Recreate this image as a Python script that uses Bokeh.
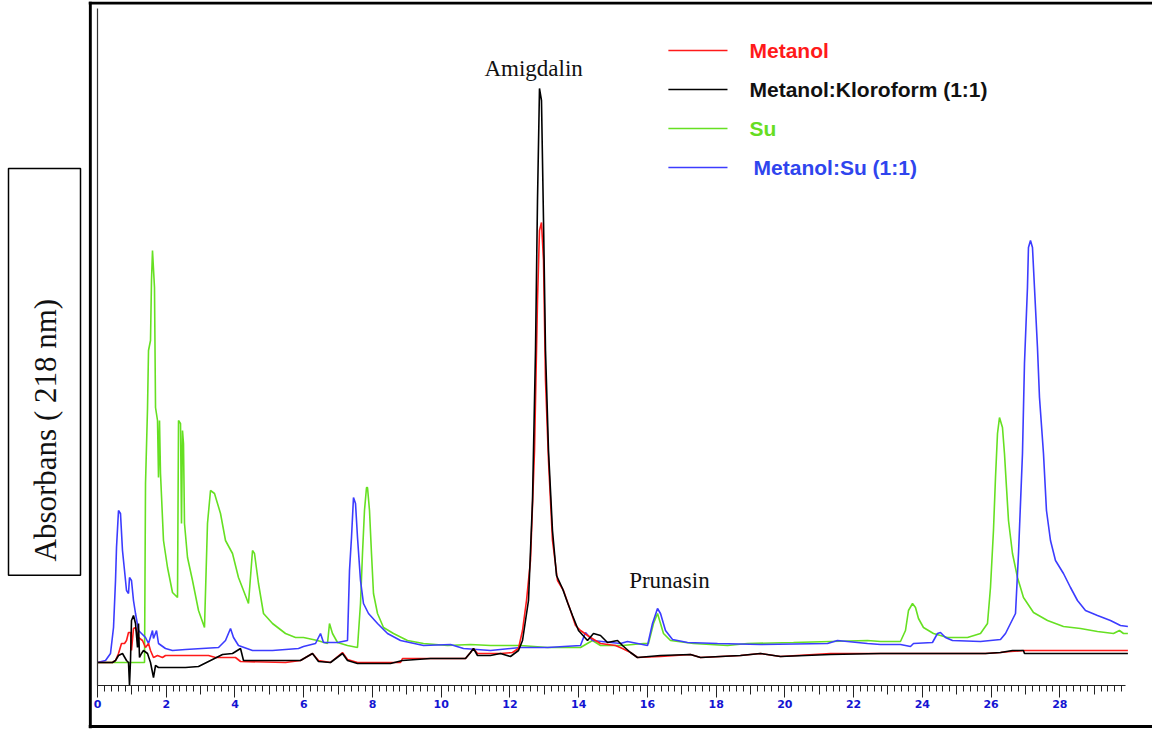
import math
from bokeh.plotting import figure
from bokeh.layouts import row
from bokeh.models import (LinearAxis, SingleIntervalTicker, FixedTicker, Range1d, Span)
from bokeh.core.properties import value
from bokeh.embed import file_html
from bokeh.resources import INLINE

# HPLC traces at 218 nm: retention time (min) and absorbance (mAU above baseline)
su_t = [0, 1.368, 1.397, 1.455, 1.484, 1.542, 1.571, 1.600, 1.658, 1.688,
        1.746, 1.775, 1.804, 1.833, 1.920, 2.037, 2.182, 2.328, 2.357, 2.415,
        2.444, 2.473, 2.502, 2.531, 2.619, 2.764, 2.939, 3.113, 3.200, 3.288,
        3.404, 3.579, 3.724, 3.928, 4.102, 4.393, 4.510, 4.568, 4.684, 4.830,
        5.092, 5.470, 5.761, 5.994, 6.401, 6.692, 6.750, 6.837, 6.983, 7.274,
        7.565, 7.652, 7.710, 7.768, 7.827, 7.856, 7.914, 7.972, 8.030, 8.147,
        8.321, 8.612, 9.019, 9.485, 10.183, 10.853, 11.434, 12.307, 13.093, 14.053,
        14.402, 14.635, 15.275, 15.886, 16.031, 16.177, 16.294, 16.468, 16.672, 17.341,
        18.330, 18.912, 20.250, 22.403, 22.782, 23.363, 23.509, 23.596, 23.713, 23.800,
        23.887, 24.032, 24.323, 24.731, 25.313, 25.691, 25.895, 25.982, 26.069, 26.128,
        26.186, 26.244, 26.331, 26.389, 26.448, 26.506, 26.622, 26.768, 26.942, 27.233,
        27.641, 28.106, 28.601, 29.095, 29.561, 29.735, 29.852, 29.98]
su_a = [0, 0, 179, 254, 312, 322, 382, 412, 375, 255,
        242, 185, 242, 189, 122, 95, 70, 65, 242, 239,
        139, 232, 219, 139, 105, 82, 52, 35, 139, 172,
        169, 149, 122, 109, 85, 59, 112, 109, 79, 49,
        39, 29, 25, 25, 22, 19, 39, 29, 20, 17,
        15, 59, 109, 152, 175, 175, 152, 109, 69, 49,
        35, 29, 22, 19, 17, 18, 17, 17, 15, 15,
        22, 17, 17, 19, 19, 39, 49, 29, 22, 19,
        17, 19, 20, 22, 21, 21, 32, 52, 59, 55,
        44, 35, 29, 25, 25, 29, 39, 75, 132, 185,
        229, 245, 235, 209, 175, 142, 109, 85, 65, 50,
        42, 36, 34, 31, 29, 32, 29, 29]

msu_t = [0, 0.233, 0.378, 0.466, 0.524, 0.553, 0.611, 0.669, 0.727, 0.786,
         0.844, 0.902, 0.931, 0.989, 1.047, 1.106, 1.193, 1.397, 1.484, 1.600,
         1.629, 1.717, 1.775, 1.978, 2.182, 2.560, 3.521, 3.724, 3.870, 3.957,
         4.102, 4.510, 5.092, 5.848, 5.994, 6.110, 6.343, 6.488, 6.576, 6.983,
         7.274, 7.332, 7.390, 7.448, 7.507, 7.565, 7.652, 7.739, 7.885, 8.147,
         8.438, 8.816, 9.485, 10.271, 10.649, 11.434, 12.307, 13.093, 14.053, 14.198,
         14.402, 15.217, 15.421, 16.003, 16.148, 16.294, 16.381, 16.526, 16.730, 17.166,
         18.039, 19.290, 21.240, 21.530, 22.403, 22.782, 23.363, 23.654, 23.742, 24.294,
         24.440, 24.527, 24.673, 24.876, 25.691, 26.273, 26.419, 26.564, 26.710, 26.797,
         26.913, 26.971, 27.058, 27.087, 27.146, 27.204, 27.262, 27.349, 27.408, 27.524,
         27.611, 27.728, 27.873, 28.106, 28.310, 28.513, 28.746, 29.095, 29.473, 29.764, 29.98]
msu_a = [0, 2, 9, 35, 82, 115, 152, 149, 112, 92,
         72, 69, 85, 82, 62, 49, 32, 25, 19, 32,
         24, 32, 19, 14, 12, 13, 15, 22, 34, 25,
         17, 12, 12, 14, 16, 17, 19, 29, 20, 20,
         22, 92, 125, 165, 159, 125, 82, 59, 49, 39,
         29, 22, 17, 18, 14, 12, 15, 15, 17, 30,
         22, 19, 21, 17, 39, 54, 49, 32, 23, 20,
         19, 18, 19, 22, 19, 18, 18, 16, 19, 20,
         29, 30, 25, 22, 21, 23, 29, 39, 49, 109,
         209, 299, 375, 415, 422, 415, 375, 315, 265, 209,
         152, 122, 102, 89, 75, 62, 52, 47, 42, 37, 36]

metanol_t = [0, 0.436, 0.524, 0.611, 0.698, 0.786, 0.844, 0.902, 0.960, 0.989,
             1.047, 1.106, 1.193, 1.309, 1.397, 1.484, 1.542, 1.629, 1.746, 1.891,
             1.978, 2.415, 3.230, 3.433, 4.015, 4.161, 5.470, 5.906, 6.255, 6.430,
             6.779, 7.128, 7.274, 7.565, 8.816, 8.874, 10.707, 10.853, 10.940, 11.056,
             11.725, 12.074, 12.249, 12.366, 12.482, 12.598, 12.715, 12.802, 12.860, 12.918,
             12.977, 13.035, 13.122, 13.238, 13.384, 13.558, 13.762, 13.908, 14.053, 14.344,
             14.635, 15.071, 15.275, 15.508, 15.711, 16.381, 17.254, 17.545, 18.708, 19.290,
             19.872, 21.327, 22.782, 25.837, 26.273, 26.564, 26.971, 29.98]
metanol_a = [0, 0, 2, 9, 19, 19, 22, 30, 30, 12,
             34, 35, 25, 22, 15, 19, 12, 5, 7, 5,
             7, 7, 7, 5, 5, 1, 0, 2, 9, 2,
             0, 10, 3, 0, 0, 4, 4, 10, 14, 9,
             9, 10, 14, 32, 62, 102, 212, 362, 432, 440,
             402, 282, 202, 122, 82, 72, 52, 37, 32, 25,
             19, 17, 14, 10, 5, 6, 8, 5, 7, 9,
             6, 9, 9, 9, 10, 11, 12, 12]

mk_t = [0, 0.436, 0.524, 0.611, 0.727, 0.844, 0.902, 0.931, 0.960, 0.989,
        1.047, 1.106, 1.164, 1.193, 1.222, 1.280, 1.338, 1.455, 1.542, 1.629,
        1.688, 1.775, 2.124, 2.560, 2.939, 3.288, 3.637, 3.928, 4.161, 4.248,
        4.510, 5.034, 5.615, 5.906, 6.255, 6.430, 6.779, 7.128, 7.274, 7.565,
        8.525, 8.874, 9.689, 10.707, 10.853, 10.940, 11.056, 11.434, 11.725, 12.016,
        12.249, 12.366, 12.540, 12.657, 12.744, 12.802, 12.860, 12.918, 12.977, 13.035,
        13.122, 13.238, 13.355, 13.529, 13.675, 13.820, 13.995, 14.257, 14.431, 14.635,
        14.839, 15.130, 15.275, 15.508, 15.711, 16.381, 17.254, 17.545, 18.708, 19.290,
        19.872, 21.327, 22.782, 25.837, 26.273, 26.622, 26.942, 26.971, 29.98]
mk_a = [0, 0, 2, 7, 9, 2, 0, -23, 2, 42,
        47, 39, 15, 39, 5, 9, 12, 9, 0, -15,
        -3, -5, -5, -5, -4, 2, 8, 9, 14, 2,
        2, 2, 2, 2, 9, 1, 0, 9, 2, -1,
        -1, 2, 4, 4, 10, 14, 7, 7, 9, 6,
        12, 22, 62, 162, 312, 462, 574, 562, 442, 312,
        212, 132, 87, 74, 60, 47, 32, 22, 29, 27,
        20, 22, 17, 10, 5, 7, 8, 5, 7, 9,
        6, 8, 9, 9, 10, 12, 12, 9, 9]

series_names = ["Metanol", "Metanol:Kloroform (1:1)", "Su", "Metanol:Su (1:1)"]
line_colors = ["#ff1a1a", "#000000", "#66e022", "#3c3cff"]
text_colors = ["#ff1a1a", "#111111", "#66dd22", "#2f45ee"]

peak_labels = ["Amigdalin", "Prunasin"]
y_title = "Absorbans ( 218 nm)"

SERIF = "Liberation Serif"
SANS = "Liberation Sans"

# --- left strip holding the boxed axis title (pixel coordinates, origin bottom-left)
side = figure(width=88, height=731, output_backend="svg", toolbar_location=None,
              x_range=Range1d(0, 88), y_range=Range1d(0, 731),
              x_axis_type=None, y_axis_type=None, min_border=0,
              background_fill_color="white", border_fill_color="white")
side.outline_line_color = None
side.quad(left=[8], right=[80], bottom=[731 - 577], top=[731 - 168],
          fill_color=None, line_color="black", line_width=1.5)
side.text(x=[45], y=[731 - 431], text=[y_title], angle=math.pi / 2,
          text_font=value(SERIF), text_font_size="31px", text_color="#111111",
          text_align="center", text_baseline="middle")

# --- chromatogram panel
p = figure(width=1064, height=731, output_backend="svg", toolbar_location=None,
           x_range=Range1d(-0.262, 30.696), y_range=Range1d(-66, 661),
           x_axis_type=None, y_axis_type=None,
           min_border_left=0, min_border_right=0, min_border_top=1, min_border_bottom=3,
           background_fill_color="white", border_fill_color="white")
p.outline_line_color = None

# outer frame (left, top, bottom)
p.add_layout(Span(location=-0.21, dimension="height", line_color="black", line_width=3))
p.add_layout(Span(location=659.5, dimension="width", line_color="black", line_width=3))
p.add_layout(Span(location=-64, dimension="width", line_color="black", line_width=3))

# traces
p.line(su_t, su_a, line_color=line_colors[2], line_width=1.6)
p.line(msu_t, msu_a, line_color=line_colors[3], line_width=1.6)
p.line(metanol_t, metanol_a, line_color=line_colors[0], line_width=1.6)
p.line(mk_t, mk_a, line_color=line_colors[1], line_width=1.6)

# vertical axis line without ticks or labels
yax = LinearAxis(fixed_location=0, bounds=(-23, 654), ticker=FixedTicker(ticks=[]))
yax.axis_line_color = "#333333"
yax.axis_line_width = 1.2
yax.major_tick_line_color = None
yax.minor_tick_line_color = None
p.add_layout(yax, "left")

# time axis: labels every 2 min, minor ticks every 0.2 min
xax = LinearAxis(fixed_location=-23, bounds=(0, 29.9),
                 ticker=SingleIntervalTicker(interval=2, num_minor_ticks=10))
xax.axis_line_color = "#222222"
xax.axis_line_width = 1.2
xax.major_tick_line_color = "#222222"
xax.minor_tick_line_color = "#222222"
xax.major_tick_in = 0
xax.major_tick_out = 12
xax.minor_tick_in = 0
xax.minor_tick_out = 6
xax.major_label_standoff = 2
xax.major_label_text_color = "#1414d2"
xax.major_label_text_font = "DejaVu Sans"
xax.major_label_text_font_style = "bold"
xax.major_label_text_font_size = "11px"
p.add_layout(xax, "below")

# intermediate ticks at odd minutes
xax_mid = LinearAxis(fixed_location=-23, bounds=(0, 29.9),
                     ticker=FixedTicker(ticks=[], minor_ticks=list(range(1, 30, 2))))
xax_mid.axis_line_color = None
xax_mid.major_tick_line_color = None
xax_mid.minor_tick_line_color = "#222222"
xax_mid.minor_tick_in = 0
xax_mid.minor_tick_out = 9
p.add_layout(xax_mid, "below")

# legend
leg_y = [612 - 39 * i for i in range(len(series_names))]
p.segment(x0=[16.61] * 4, x1=[18.33] * 4, y0=leg_y, y1=leg_y,
          line_color=line_colors, line_width=1.5)
p.text(x=[18.97, 18.97, 18.97, 19.09], y=leg_y, text=series_names,
       text_color=text_colors, text_font=value(SANS), text_font_style="bold",
       text_font_size="21px", text_baseline="middle", text_align="left")

# peak names
p.text(x=[12.69, 16.64], y=[594, 82], text=peak_labels, text_color="#111111",
       text_font=value(SERIF), text_font_size="23px",
       text_align="center", text_baseline="middle")

layout = row(side, p)
open("out.html", "w").write(file_html(layout, INLINE))
